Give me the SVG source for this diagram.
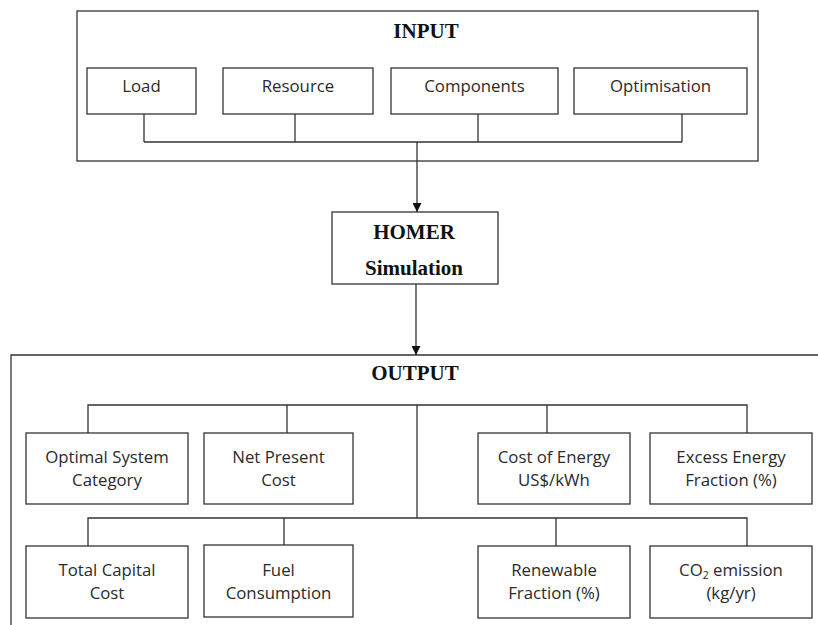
<svg xmlns="http://www.w3.org/2000/svg" width="818" height="625" viewBox="0 0 818 625">
<style>
.box{fill:#fff;stroke:#333;stroke-width:1.3}
.frame{fill:none;stroke:#333;stroke-width:1.3}
.ln{fill:none;stroke:#333;stroke-width:1.3}
.t{font-family:"Open Sans","DejaVu Sans",sans-serif;font-size:16.8px;fill:#2a2a2a;text-anchor:middle}
.h{font-family:"Liberation Serif","Times New Roman",serif;font-size:21px;font-weight:bold;fill:#111;text-anchor:middle}
</style>
<defs>
<marker id="arr" viewBox="0 0 10 10" refX="10" refY="5" markerWidth="9" markerHeight="9" markerUnits="userSpaceOnUse" orient="auto">
<path d="M0,0 L10,5 L0,10 z" fill="#111"/>
</marker>
</defs>
<rect width="818" height="625" fill="#fff"/>
<g id="input">
<rect class="frame" x="77" y="11" width="681" height="150"/>
<text class="h" x="426" y="38">INPUT</text>
</g>
<g id="output">
<path class="frame" d="M11,625 L11,355 L818,355"/>
<text class="h" x="415" y="380">OUTPUT</text>
</g>
<g id="connectors">
<path class="ln" d="M144,114 V142 M295,114 V142 M478,114 V142 M682,114 V142 M144,142 H682"/>
<path class="ln" d="M417,142 V212" marker-end="url(#arr)"/>
<path class="ln" d="M416,284 V355" marker-end="url(#arr)"/>
<path class="ln" d="M88,433 V405 H747 V433 M287,405 V433 M547,405 V433"/>
<path class="ln" d="M417,405 V518"/>
<path class="ln" d="M88,546 V518 H747 V546 M284,518 V545 M556,518 V546"/>
</g>
<g id="load"><rect class="box" x="87" y="68" width="109" height="46"/><text class="t" x="141.5" y="92">Load</text></g>
<g id="resource"><rect class="box" x="223" y="68" width="150" height="46"/><text class="t" x="298" y="92">Resource</text></g>
<g id="components"><rect class="box" x="391" y="68" width="167" height="46"/><text class="t" x="474.5" y="92">Components</text></g>
<g id="optimisation"><rect class="box" x="574" y="68" width="173" height="46"/><text class="t" x="660.5" y="92">Optimisation</text></g>
<g id="homer"><rect class="box" x="332" y="212" width="166" height="72"/><text class="h" x="414" y="239">HOMER</text><text class="h" x="414" y="275">Simulation</text></g>
<g id="optimal"><rect class="box" x="26" y="433" width="162" height="71"/><text class="t" x="107" y="463">Optimal System</text><text class="t" x="107" y="486">Category</text></g>
<g id="npc"><rect class="box" x="204" y="433" width="149" height="71"/><text class="t" x="278.5" y="463">Net Present</text><text class="t" x="278.5" y="486">Cost</text></g>
<g id="coe"><rect class="box" x="478" y="433" width="152" height="71"/><text class="t" x="554" y="463">Cost of Energy</text><text class="t" x="554" y="486">US$/kWh</text></g>
<g id="excess"><rect class="box" x="650" y="433" width="162" height="71"/><text class="t" x="731" y="463">Excess Energy</text><text class="t" x="731" y="486">Fraction (%)</text></g>
<g id="tcc"><rect class="box" x="26" y="546" width="162" height="72"/><text class="t" x="107" y="576">Total Capital</text><text class="t" x="107" y="599">Cost</text></g>
<g id="fuel"><rect class="box" x="204" y="545" width="149" height="72"/><text class="t" x="278.5" y="576">Fuel</text><text class="t" x="278.5" y="599">Consumption</text></g>
<g id="renewable"><rect class="box" x="478" y="546" width="152" height="72"/><text class="t" x="554" y="576">Renewable</text><text class="t" x="554" y="599">Fraction (%)</text></g>
<g id="co2"><rect class="box" x="650" y="546" width="162" height="72"/><text class="t" x="731" y="576">CO<tspan font-size="10.5" dy="3">2</tspan><tspan dy="-3"> emission</tspan></text><text class="t" x="731" y="599">(kg/yr)</text></g>
</svg>
